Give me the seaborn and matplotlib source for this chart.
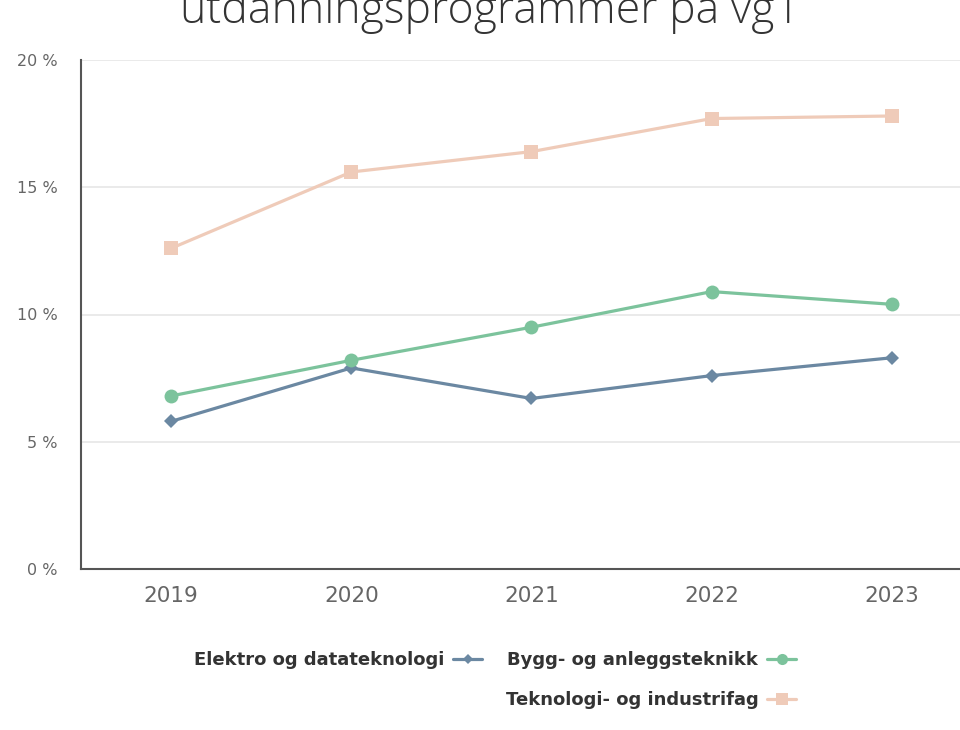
import numpy as np
import pandas as pd
import matplotlib
matplotlib.use("Agg")
import matplotlib.pyplot as plt
from matplotlib.lines import Line2D
import seaborn as sns

sns.set_theme(style="white")
plt.rcParams['font.family'] = ['DejaVu Sans']

years = [2019, 2020, 2021, 2022, 2023]
elektro = [5.8, 7.9, 6.7, 7.6, 8.3]
bygg = [6.8, 8.2, 9.5, 10.9, 10.4]
teknologi = [12.6, 15.6, 16.4, 17.7, 17.8]
series_names = ["Elektro og datateknologi", "Bygg- og anleggsteknikk", "Teknologi- og industrifag"]
y_ticks = [0, 5, 10, 15, 20]
title_text = "utdanningsprogrammer på vg1"

colors = {series_names[0]: "#6b88a2", series_names[1]: "#7cc39c", series_names[2]: "#efcbb9"}
markers = {series_names[0]: "D", series_names[1]: "o", series_names[2]: "s"}
msizes = {series_names[0]: 7, series_names[1]: 10, series_names[2]: 10}

df = pd.DataFrame({
    "year": years * 3,
    "value": elektro + bygg + teknologi,
    "series": [series_names[0]] * 5 + [series_names[1]] * 5 + [series_names[2]] * 5,
})

fig = plt.figure(figsize=(9.6, 7.3), dpi=100)
ax = fig.add_axes([81 / 960, 161 / 730, 901 / 960, 509 / 730])

for name in series_names:
    sub = df[df["series"] == name]
    sns.lineplot(data=sub, x="year", y="value", ax=ax, color=colors[name],
                 marker=markers[name], markersize=msizes[name], markeredgewidth=0,
                 linewidth=2.3, legend=False)

ax.set_xlim(2018.5, 2023.5)
ax.set_ylim(0, 20)
ax.set_xticks(years)
ax.set_xticklabels([str(y) for y in years], fontsize=15.5, color="#666666")
ax.set_yticks(y_ticks)
ax.set_yticklabels([f"{t} %" for t in y_ticks], fontsize=11.5, color="#666666")
ax.tick_params(axis="both", length=0)
ax.tick_params(axis="y", pad=17)
ax.tick_params(axis="x", pad=12)
ax.set_xlabel("")
ax.set_ylabel("")
ax.grid(axis="y", color="#e6e6e6", linewidth=1.2)
ax.set_axisbelow(True)
for s in ["top", "right"]:
    ax.spines[s].set_visible(False)
for s in ["left", "bottom"]:
    ax.spines[s].set_color("#555555")
    ax.spines[s].set_linewidth(1.5)

handles = []
for name in series_names:
    handles.append(Line2D([], [], color=colors[name], marker=markers[name],
                          markersize=msizes[name] * 0.8, markeredgewidth=0, linewidth=2.3))
blank = Line2D([], [], linestyle="none", marker=None)
leg = fig.legend([handles[0], blank, handles[1], handles[2]],
                 [series_names[0], "", series_names[1], series_names[2]],
                 ncol=2, markerfirst=False, frameon=False,
                 loc="center", bbox_to_anchor=(495 / 960, 1 - 680 / 730),
                 prop={"weight": "bold", "size": 13}, labelcolor="#333333",
                 handlelength=1.6, handletextpad=0.5, columnspacing=1.3, labelspacing=1.2)

fig.text(490 / 960, 1 - 23 / 730, title_text, ha="center", va="baseline",
         fontsize=32, color="#333333", family=["Open Sans", "DejaVu Sans"], fontweight="light")

fig.savefig("out.png", dpi=100, facecolor="white")
